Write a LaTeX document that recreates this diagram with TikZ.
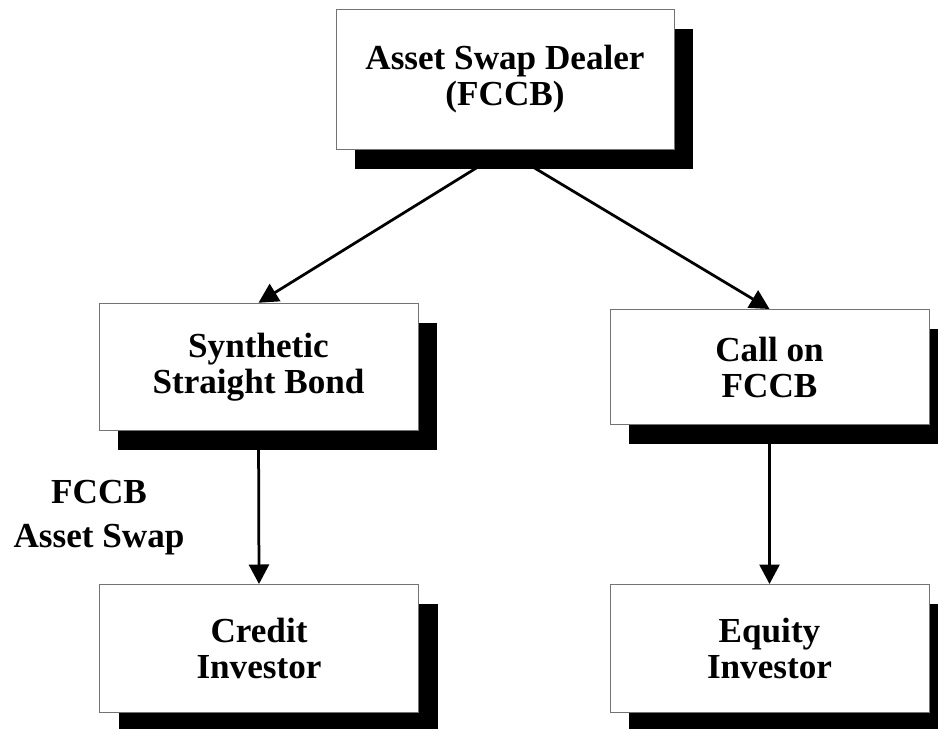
\documentclass[tikz,border=0pt]{standalone}
\usepackage{fontspec}
\setmainfont{Liberation Serif}
\usepackage{tikz}
\usetikzlibrary{arrows.meta, positioning, shadows, backgrounds}

\begin{document}
\begin{tikzpicture}[
  legbox/.style={draw=black!55, line width=0.02cm, fill=white, minimum width=6.38cm, align=center, inner sep=0pt,
    font=\bfseries\fontsize{20}{20.5}\selectfont,
    drop shadow={shadow xshift=0.38cm, shadow yshift=-0.39cm, fill=black, opacity=1}},
  flow/.style={-{Triangle[length=0.39cm, width=0.4cm]}, line width=0.055cm}
]
  \clip (0,0) rectangle (18.76,-14.58);

  % Dealer
  \node[legbox, minimum width=6.76cm, minimum height=2.81cm] (dealer) at (10.10,-1.59) {Asset Swap Dealer\\(FCCB)};

  % Legs of the swap
  \node[legbox, minimum height=2.55cm] (synth) at (5.17,-7.34) {Synthetic\\Straight Bond};
  \node[legbox, minimum height=2.30cm] (call) at (15.39,-7.34) {Call on\\FCCB};

  % Investors
  \node[legbox, minimum height=2.56cm] (credit) at (5.18,-12.97) {Credit\\Investor};
  \node[legbox, minimum height=2.56cm] (equity) at (15.39,-12.97) {Equity\\Investor};

  \node[align=center, font=\bfseries\fontsize{20}{25}\selectfont] (swaplbl) at (1.98,-10.35) {FCCB\\Asset Swap};

  \begin{scope}[on background layer]
    \draw[flow] (dealer.south) -- (synth.north);
    \draw[flow] (dealer.south) -- (call.north);
    \draw[flow] (synth.south) -- (credit.north);
    \draw[flow] (call.south) -- (equity.north);
  \end{scope}
\end{tikzpicture}
\end{document}
